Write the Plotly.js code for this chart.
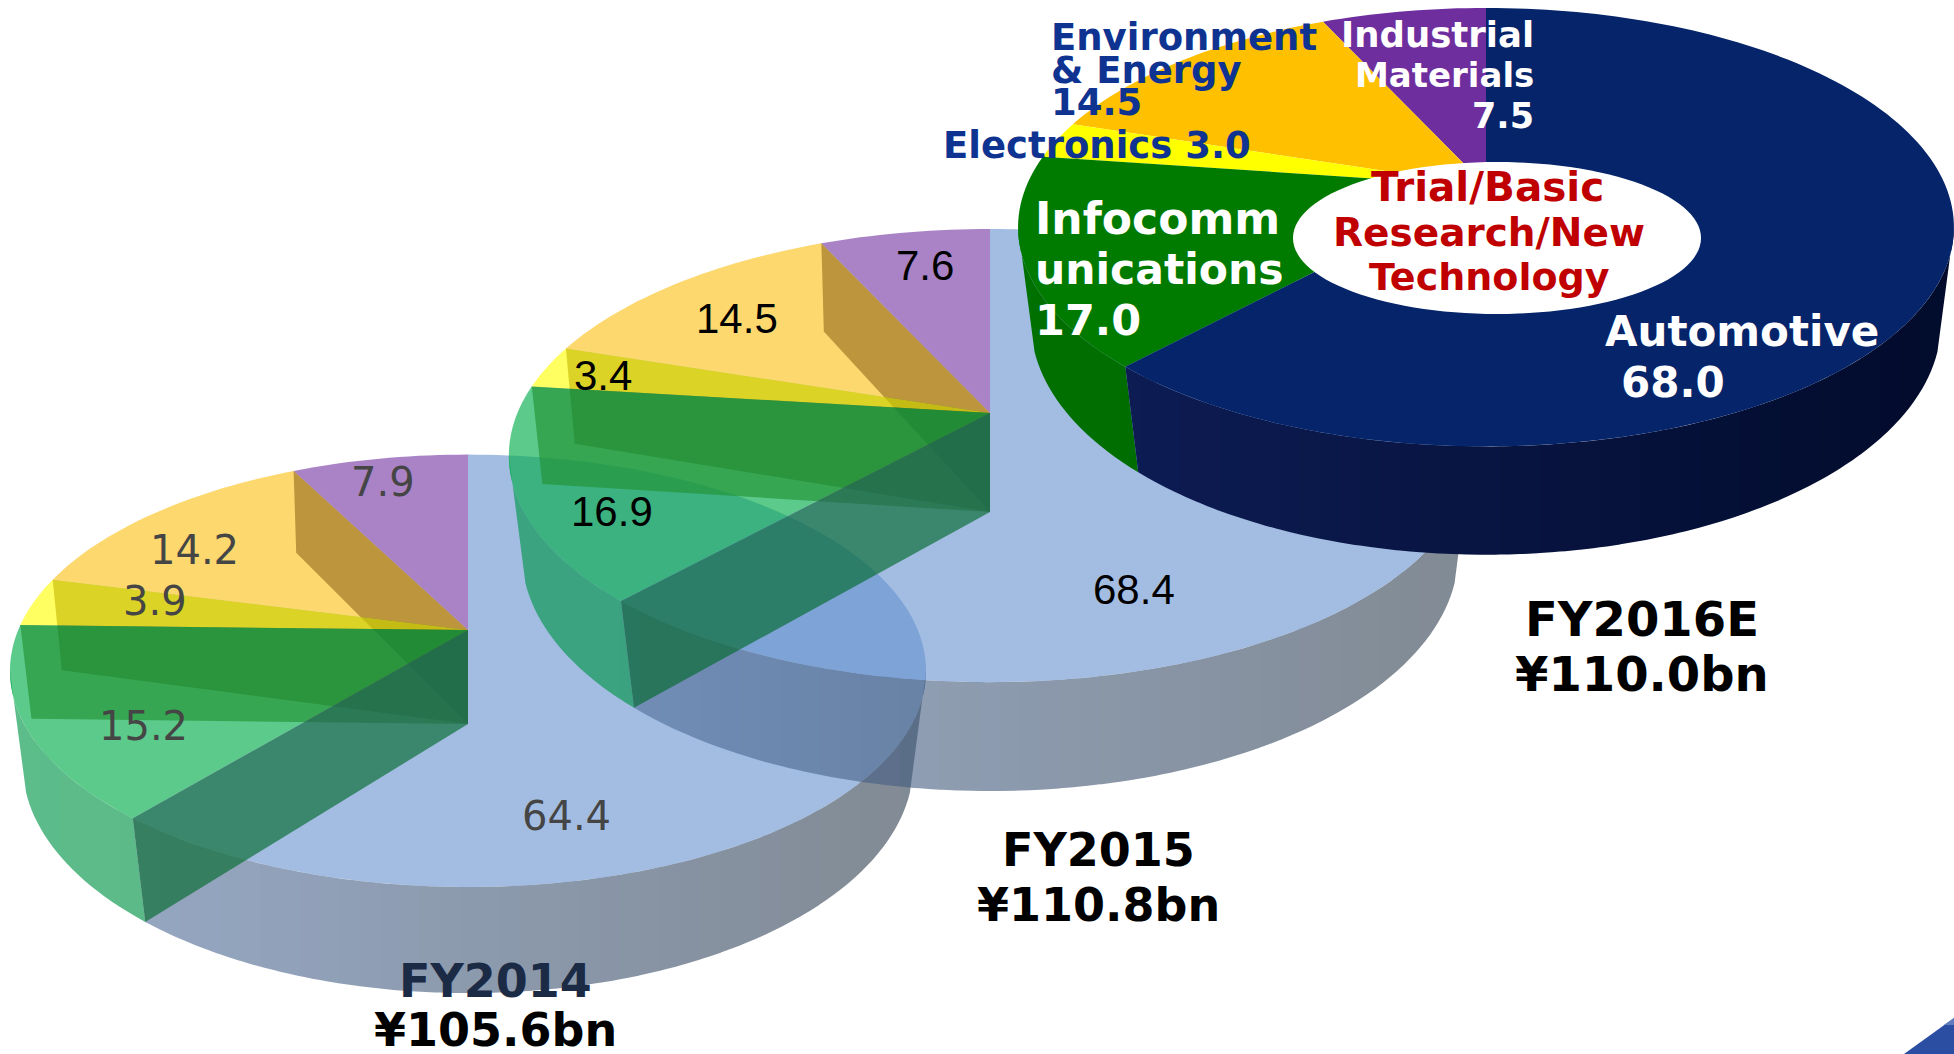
<!DOCTYPE html>
<html><head><meta charset="utf-8">
<script src="https://cdn.plot.ly/plotly-3.0.1.min.js"></script>
<style>html,body{margin:0;padding:0;background:#fff;overflow:hidden}#c{width:1954px;height:1054px}</style>
</head><body><div id="c"></div>
<script>
const segments = ['Industrial Materials','Environment & Energy','Electronics','Infocommunications','Automotive'];
const fy2014 = [7.9,14.2,3.9,15.2,64.4];
const fy2015 = [7.6,14.5,3.4,16.9,68.4];
const fy2016 = [7.5,14.5,3.0,17.0,68.0];

// perspective frame of each disc
const geo2014 = {cx:468, top:{y:630,A:208.5,B:449.8,k:.1888}, bot:{y:724,A:222,B:438.5,k:.175}};
const geo2015 = {cx:990, top:{y:413,A:218.6,B:472.6,k:.1878}, bot:{y:512,A:230.2,B:461,k:.175}};
const geo2016 = {cx:1486,top:{y:186,A:211.5,B:459.6,k:.1878}, bot:{y:282,A:225,B:448,k:.175}};
const KINK = 7;

const glassTop = ['rgba(112,48,160,.6)','rgba(250,187,0,.57)','rgba(255,255,0,.62)','rgba(0,172,72,.64)','rgba(102,145,207,.6)'];
const solidTop = ['#6F2E9E','#FFC000','#FFFF00','#007B00','#05246A'];
const glassInner = ['rgba(44,36,91,.7)','rgba(100,63,0,.6)','rgba(85,90,0,.6)'];
const glassFront = 'rgba(0,105,42,.64)';
const glassWall = {g:[[0,150,72],[0,128,62],.64], b:[[84,115,165],[44,60,76],.6]};
const solidWall = {g:[[0,112,0],[0,90,0],1], b:[[14,30,88],[2,11,43],1]};

const traces = [];
function poly(pts,color){
  if(pts.length<3) return;
  traces.push({type:'scatter',mode:'lines',x:pts.map(p=>p[0]),y:pts.map(p=>p[1]),
    fill:'toself',fillcolor:color,line:{width:0,simplify:false},hoverinfo:'skip',showlegend:false});
}
const rad = d=>d*Math.PI/180;
function rim(g,l,deg){
  const f=g[l],s=Math.sin(rad(deg)),c=Math.cos(rad(deg)),d=1+f.k*c;
  return [g.cx-f.B*s/d, f.y-f.A*c/d];
}
function arc(g,l,a,b){
  const n=Math.max(4,Math.ceil(Math.abs(b-a)/1.5)),out=[];
  for(let i=0;i<=n;i++) out.push(rim(g,l,a+(b-a)*i/n));
  return out;
}
function clipX(pts,x,keepRight){
  const out=[],inside=p=>keepRight?p[0]>=x:p[0]<=x;
  for(let i=0;i<pts.length;i++){
    const p=pts[i],q=pts[(i+1)%pts.length];
    if(inside(p)) out.push(p);
    if(inside(p)!==inside(q)){
      const t=(x-p[0])/(q[0]-p[0]);
      out.push([x,p[1]+t*(q[1]-p[1])]);
    }
  }
  return out;
}
function bandedWall(pts,g,stops){
  const xs=pts.map(p=>p[0]),lo=Math.floor(Math.min(...xs)/20)*20,hi=Math.ceil(Math.max(...xs)/20)*20;
  const span=2*g.top.B*1.02;
  for(let x=lo;x<hi;x+=20){
    const c=clipX(clipX(pts,x,true),x+20,false);
    const t=Math.min(1,Math.max(0,(x+10-(g.cx-span/2))/span));
    const rgb=stops[0].map((v,i)=>Math.round(v+(stops[1][i]-v)*t));
    poly(c,`rgba(${rgb[0]},${rgb[1]},${rgb[2]},${stops[2]})`);
  }
}
function drawPie(vals,g,glass){
  const tot=vals.reduce((a,b)=>a+b,0);
  const edges=[0];vals.forEach(v=>edges.push(edges[edges.length-1]+v/tot*360));
  const extT=Math.acos(-g.top.k)*180/Math.PI, extB=Math.acos(-g.bot.k)*180/Math.PI+KINK;
  const wall=glass?glassWall:solidWall;
  const e3=edges[3],e4=edges[4];
  bandedWall(arc(g,'top',Math.max(e3,extT),e4).concat(arc(g,'bot',e4,Math.max(e3,extB))),g,wall.g);
  bandedWall(arc(g,'top',e4,360-extT).concat(arc(g,'bot',360-extB,e4)),g,wall.b);
  const apexT=[g.cx,g.top.y],apexB=[g.cx,g.bot.y];
  if(glass){
    [1,2,3].forEach(i=>poly([apexT,rim(g,'top',edges[i]),rim(g,'bot',edges[i]),apexB],glassInner[i-1]));
  }
  vals.forEach((v,i)=>{
    poly([apexT].concat(arc(g,'top',edges[i],edges[i+1])),(glass?glassTop:solidTop)[i]);
  });
  if(glass) poly([apexT,rim(g,'top',e4),rim(g,'bot',e4),apexB],glassFront);
}
drawPie(fy2014,geo2014,true);
drawPie(fy2015,geo2015,true);
drawPie(fy2016,geo2016,false);

// white centre ellipse
const hole=[];for(let d=0;d<360;d+=3) hole.push([1497+204*Math.cos(rad(d)),238+76*Math.sin(rad(d))]);
poly(hole,'#ffffff');
// corner decoration
poly([[1904,1054],[1954,1018],[1954,1054]],'#2C4EA2');
poly([[1944,1025],[1954,1018],[1954,1025]],'#5F7BBE');

const BOLD='"DejaVu Sans",Verdana,sans-serif', ARIAL='"Liberation Sans",Arial,sans-serif';
const NAVY='#0F3391',RED='#C00000',W='#ffffff',K='#000000',G='#454545';
const labels=[
 ['FY2016E',1642,619,48,K,BOLD,'center',1],['¥110.0bn',1642,674,48,K,BOLD,'center',1],
 ['FY2015',1098,850,46,K,BOLD,'center',1],['¥110.8bn',1098,905,46,K,BOLD,'center',1],
 ['FY2014',495,981,46,'#1C2B45',BOLD,'center',1],['¥105.6bn',495,1030,46,K,BOLD,'center',1],
 ['Automotive',1604,331,42,W,BOLD,'left',1],['68.0',1620,382,42,W,BOLD,'left',1],
 ['Infocomm',1034,218,44,W,BOLD,'left',1],['unications',1034,269,42.5,W,BOLD,'left',1],['17.0',1034,320,43,W,BOLD,'left',1],
 ['Environment',1050,37,37,NAVY,BOLD,'left',1],['& Energy',1050,70,37,NAVY,BOLD,'left',1],['14.5',1050,102,37,NAVY,BOLD,'left',1],
 ['Electronics 3.0',942,145,37,NAVY,BOLD,'left',1],
 ['Industrial',1535,34,35.5,W,BOLD,'right',1],['Materials',1535,75,34,W,BOLD,'right',1],['7.5',1535,116,35,W,BOLD,'right',1],
 ['Trial/Basic',1487,187,40.5,RED,BOLD,'center',1],['Research/New',1489,232,39,RED,BOLD,'center',1],['Technology',1489,277,38,RED,BOLD,'center',1],
 ['7.6',925,265,42,K,ARIAL,'center',0],['14.5',737,318,42,K,ARIAL,'center',0],['3.4',603,375,42,K,ARIAL,'center',0],
 ['16.9',612,511,42,K,ARIAL,'center',0],['68.4',1134,589,42,K,ARIAL,'center',0],
 ['7.9',383,482,40,G,BOLD,'center',0],['14.2',194,550,40,G,BOLD,'center',0],['3.9',155,601,40,G,BOLD,'center',0],
 ['15.2',143,726,40,G,BOLD,'center',0],['64.4',566,816,40,G,BOLD,'center',0]
];
const annotations=labels.map(l=>({text:l[7]?'<b>'+l[0]+'</b>':l[0],x:l[1],y:l[2],xref:'x',yref:'y',showarrow:false,
  xanchor:l[6],yanchor:'middle',font:{size:l[3],color:l[4],family:l[5]},borderpad:0}));

Plotly.newPlot('c',traces,{
  width:1954,height:1054,margin:{l:0,r:0,t:0,b:0,pad:0},
  paper_bgcolor:'#fff',plot_bgcolor:'#fff',showlegend:false,hovermode:false,
  xaxis:{range:[0,1954],visible:false,fixedrange:true},
  yaxis:{range:[1054,0],visible:false,fixedrange:true},
  annotations
},{displayModeBar:false,staticPlot:true});
</script></body></html>
